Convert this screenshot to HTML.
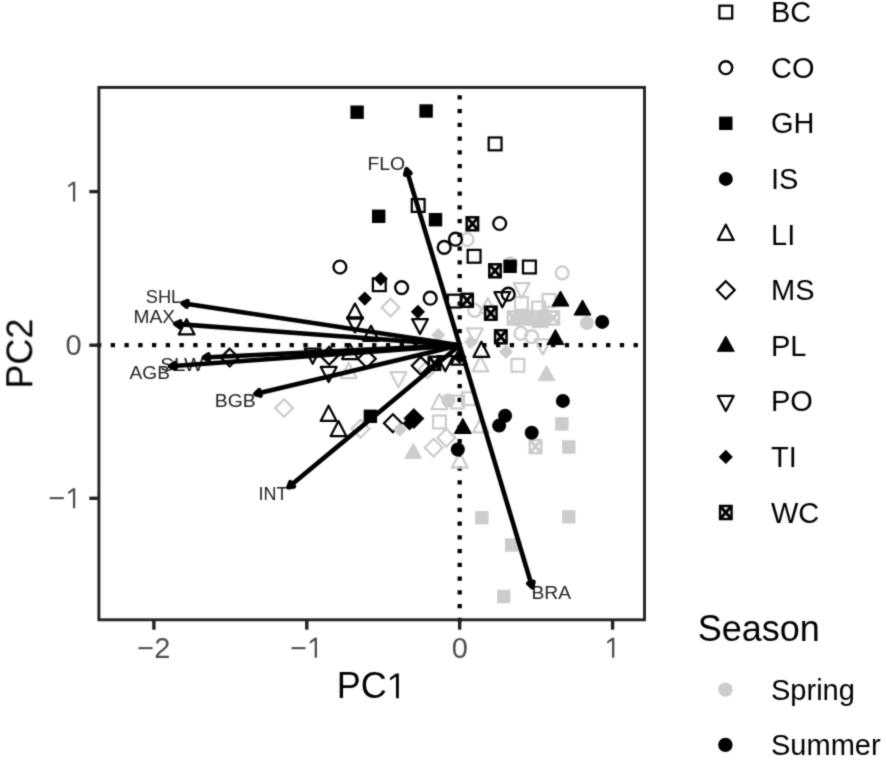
<!DOCTYPE html>
<html><head><meta charset="utf-8"><style>
html,body{margin:0;padding:0;background:#fff;width:886px;height:760px;overflow:hidden}
svg{display:block;will-change:transform}
text{font-family:"Liberation Sans",sans-serif}
</style></head><body>
<svg width="886" height="760" viewBox="0 0 886 760">
<defs><filter id="sb" x="0" y="0" width="886" height="760" filterUnits="userSpaceOnUse" color-interpolation-filters="sRGB"><feConvolveMatrix order="3" kernelMatrix="1 2 1 2 12 2 1 2 1" divisor="24" edgeMode="none"/></filter></defs>
<rect width="886" height="760" fill="#fff"/>
<g filter="url(#sb)">
<path d="M96.95 343.05h4.3v4.3h-4.3zM110.71 343.05h4.3v4.3h-4.3zM124.47 343.05h4.3v4.3h-4.3zM138.23 343.05h4.3v4.3h-4.3zM151.99 343.05h4.3v4.3h-4.3zM165.75 343.05h4.3v4.3h-4.3zM179.51 343.05h4.3v4.3h-4.3zM193.27 343.05h4.3v4.3h-4.3zM207.03 343.05h4.3v4.3h-4.3zM220.79 343.05h4.3v4.3h-4.3zM234.55 343.05h4.3v4.3h-4.3zM248.31 343.05h4.3v4.3h-4.3zM262.07 343.05h4.3v4.3h-4.3zM275.83 343.05h4.3v4.3h-4.3zM289.59 343.05h4.3v4.3h-4.3zM303.35 343.05h4.3v4.3h-4.3zM317.11 343.05h4.3v4.3h-4.3zM330.87 343.05h4.3v4.3h-4.3zM344.63 343.05h4.3v4.3h-4.3zM358.39 343.05h4.3v4.3h-4.3zM372.15 343.05h4.3v4.3h-4.3zM385.91 343.05h4.3v4.3h-4.3zM399.67 343.05h4.3v4.3h-4.3zM413.43 343.05h4.3v4.3h-4.3zM427.19 343.05h4.3v4.3h-4.3zM440.95 343.05h4.3v4.3h-4.3zM454.71 343.05h4.3v4.3h-4.3zM468.47 343.05h4.3v4.3h-4.3zM482.23 343.05h4.3v4.3h-4.3zM495.99 343.05h4.3v4.3h-4.3zM509.75 343.05h4.3v4.3h-4.3zM523.51 343.05h4.3v4.3h-4.3zM537.27 343.05h4.3v4.3h-4.3zM551.03 343.05h4.3v4.3h-4.3zM564.79 343.05h4.3v4.3h-4.3zM578.55 343.05h4.3v4.3h-4.3zM592.31 343.05h4.3v4.3h-4.3zM606.07 343.05h4.3v4.3h-4.3zM619.83 343.05h4.3v4.3h-4.3zM633.59 343.05h4.3v4.3h-4.3zM457.55 617.65h4.3v4.3h-4.3zM457.55 603.90h4.3v4.3h-4.3zM457.55 590.15h4.3v4.3h-4.3zM457.55 576.40h4.3v4.3h-4.3zM457.55 562.65h4.3v4.3h-4.3zM457.55 548.90h4.3v4.3h-4.3zM457.55 535.15h4.3v4.3h-4.3zM457.55 521.40h4.3v4.3h-4.3zM457.55 507.65h4.3v4.3h-4.3zM457.55 493.90h4.3v4.3h-4.3zM457.55 480.15h4.3v4.3h-4.3zM457.55 466.40h4.3v4.3h-4.3zM457.55 452.65h4.3v4.3h-4.3zM457.55 438.90h4.3v4.3h-4.3zM457.55 425.15h4.3v4.3h-4.3zM457.55 411.40h4.3v4.3h-4.3zM457.55 397.65h4.3v4.3h-4.3zM457.55 383.90h4.3v4.3h-4.3zM457.55 370.15h4.3v4.3h-4.3zM457.55 356.40h4.3v4.3h-4.3zM457.55 342.65h4.3v4.3h-4.3zM457.55 328.90h4.3v4.3h-4.3zM457.55 315.15h4.3v4.3h-4.3zM457.55 301.40h4.3v4.3h-4.3zM457.55 287.65h4.3v4.3h-4.3zM457.55 273.90h4.3v4.3h-4.3zM457.55 260.15h4.3v4.3h-4.3zM457.55 246.40h4.3v4.3h-4.3zM457.55 232.65h4.3v4.3h-4.3zM457.55 218.90h4.3v4.3h-4.3zM457.55 205.15h4.3v4.3h-4.3zM457.55 191.40h4.3v4.3h-4.3zM457.55 177.65h4.3v4.3h-4.3zM457.55 163.90h4.3v4.3h-4.3zM457.55 150.15h4.3v4.3h-4.3zM457.55 136.40h4.3v4.3h-4.3zM457.55 122.65h4.3v4.3h-4.3zM457.55 108.90h4.3v4.3h-4.3zM457.55 95.15h4.3v4.3h-4.3z" fill="#000"/>
<g id="labels" fill="#222"><text x="405.2" y="169.7" text-anchor="end" font-size="19" textLength="37.7" lengthAdjust="spacingAndGlyphs">FLO</text><text x="181.2" y="303.2" text-anchor="end" font-size="19" textLength="35.4" lengthAdjust="spacingAndGlyphs">SHL</text><text x="175.0" y="323.3" text-anchor="end" font-size="19" textLength="41.5" lengthAdjust="spacingAndGlyphs">MAX</text><text x="203.3" y="371.1" text-anchor="end" font-size="19" textLength="43.0" lengthAdjust="spacingAndGlyphs">SLW</text><text x="169.9" y="379.0" text-anchor="end" font-size="19" textLength="40.3" lengthAdjust="spacingAndGlyphs">AGB</text><text x="255.7" y="407.0" text-anchor="end" font-size="19" textLength="41.0" lengthAdjust="spacingAndGlyphs">BGB</text><text x="287.4" y="499.9" text-anchor="end" font-size="19" textLength="28.9" lengthAdjust="spacingAndGlyphs">INT</text><text x="531.4" y="599.2" font-size="19" textLength="39.6" lengthAdjust="spacingAndGlyphs">BRA</text></g>
<g id="pts"><circle cx="467.10" cy="239.50" r="6.40" fill="none" stroke="#cccccc" stroke-width="2.4"/><circle cx="562.20" cy="272.80" r="6.40" fill="none" stroke="#cccccc" stroke-width="2.4"/><circle cx="474.70" cy="310.30" r="6.40" fill="none" stroke="#cccccc" stroke-width="2.4"/><circle cx="520.90" cy="333.30" r="6.40" fill="none" stroke="#cccccc" stroke-width="2.4"/><circle cx="531.70" cy="336.60" r="6.40" fill="none" stroke="#cccccc" stroke-width="2.4"/><path d="M521.60 298.30L529.50 283.20L513.70 283.20Z" fill="none" stroke="#cccccc" stroke-width="2.25" stroke-linejoin="round"/><path d="M474.80 343.50L482.70 328.40L466.90 328.40Z" fill="none" stroke="#cccccc" stroke-width="2.25" stroke-linejoin="round"/><path d="M542.80 354.50L550.70 339.40L534.90 339.40Z" fill="none" stroke="#cccccc" stroke-width="2.25" stroke-linejoin="round"/><path d="M398.40 387.30L406.30 372.20L390.50 372.20Z" fill="none" stroke="#cccccc" stroke-width="2.25" stroke-linejoin="round"/><rect x="515.00" y="297.00" width="12.80" height="12.80" fill="none" stroke="#cccccc" stroke-width="2.25"/><rect x="532.20" y="301.60" width="12.80" height="12.80" fill="none" stroke="#cccccc" stroke-width="2.25"/><rect x="542.60" y="294.00" width="12.80" height="12.80" fill="none" stroke="#cccccc" stroke-width="2.25"/><rect x="511.50" y="358.90" width="12.80" height="12.80" fill="none" stroke="#cccccc" stroke-width="2.25"/><rect x="451.20" y="395.60" width="12.80" height="12.80" fill="none" stroke="#cccccc" stroke-width="2.25"/><rect x="462.10" y="392.30" width="12.80" height="12.80" fill="none" stroke="#cccccc" stroke-width="2.25"/><rect x="433.10" y="415.60" width="12.80" height="12.80" fill="none" stroke="#cccccc" stroke-width="2.25"/><path d="M427.50 360.60L436.40 369.50L427.50 378.40L418.60 369.50Z" fill="none" stroke="#cccccc" stroke-width="2.25"/><rect x="507.80" y="311.50" width="11.40" height="13.00" fill="none" stroke="#cccccc" stroke-width="2.5"/><path d="M507.80 311.50L519.20 324.50M519.20 311.50L507.80 324.50" stroke="#cccccc" stroke-width="3.1"/><rect x="518.30" y="311.50" width="11.40" height="13.00" fill="none" stroke="#cccccc" stroke-width="2.5"/><path d="M518.30 311.50L529.70 324.50M529.70 311.50L518.30 324.50" stroke="#cccccc" stroke-width="3.1"/><rect x="528.30" y="311.50" width="11.40" height="13.00" fill="none" stroke="#cccccc" stroke-width="2.5"/><path d="M528.30 311.50L539.70 324.50M539.70 311.50L528.30 324.50" stroke="#cccccc" stroke-width="3.1"/><rect x="538.30" y="311.50" width="11.40" height="13.00" fill="none" stroke="#cccccc" stroke-width="2.5"/><path d="M538.30 311.50L549.70 324.50M549.70 311.50L538.30 324.50" stroke="#cccccc" stroke-width="3.1"/><rect x="547.60" y="311.50" width="11.40" height="13.00" fill="none" stroke="#cccccc" stroke-width="2.5"/><path d="M547.60 311.50L559.00 324.50M559.00 311.50L547.60 324.50" stroke="#cccccc" stroke-width="3.1"/><rect x="529.80" y="440.10" width="11.40" height="13.00" fill="none" stroke="#cccccc" stroke-width="2.5"/><path d="M529.80 440.10L541.20 453.10M541.20 440.10L529.80 453.10" stroke="#cccccc" stroke-width="3.1"/><path d="M390.50 298.70L399.40 307.60L390.50 316.50L381.60 307.60Z" fill="none" stroke="#cccccc" stroke-width="2.25"/><path d="M284.10 399.20L293.00 408.10L284.10 417.00L275.20 408.10Z" fill="none" stroke="#cccccc" stroke-width="2.25"/><path d="M360.50 419.90L369.40 428.80L360.50 437.70L351.60 428.80Z" fill="none" stroke="#cccccc" stroke-width="2.25"/><path d="M446.30 428.90L455.20 437.80L446.30 446.70L437.40 437.80Z" fill="none" stroke="#cccccc" stroke-width="2.25"/><path d="M433.60 438.80L442.50 447.70L433.60 456.60L424.70 447.70Z" fill="none" stroke="#cccccc" stroke-width="2.25"/><path d="M487.90 297.90L495.80 313.00L480.00 313.00Z" fill="none" stroke="#cccccc" stroke-width="2.25" stroke-linejoin="round"/><path d="M480.40 356.30L488.30 371.40L472.50 371.40Z" fill="none" stroke="#cccccc" stroke-width="2.25" stroke-linejoin="round"/><path d="M439.40 394.00L447.30 409.10L431.50 409.10Z" fill="none" stroke="#cccccc" stroke-width="2.25" stroke-linejoin="round"/><path d="M459.70 452.60L467.60 467.70L451.80 467.70Z" fill="none" stroke="#cccccc" stroke-width="2.25" stroke-linejoin="round"/><path d="M348.70 363.00L356.60 378.10L340.80 378.10Z" fill="none" stroke="#cccccc" stroke-width="2.25" stroke-linejoin="round"/><path d="M481.00 417.30L488.90 432.40L473.10 432.40Z" fill="none" stroke="#cccccc" stroke-width="2.25" stroke-linejoin="round"/><circle cx="586.90" cy="323.10" r="7.00" fill="#cccccc"/><circle cx="448.30" cy="400.50" r="7.00" fill="#cccccc"/><circle cx="544.50" cy="315.00" r="7.00" fill="#cccccc"/><rect x="521.30" y="311.30" width="13.40" height="13.40" fill="#cccccc"/><circle cx="517.00" cy="319.00" r="7.00" fill="#cccccc"/><rect x="555.20" y="417.20" width="13.40" height="13.40" fill="#cccccc"/><rect x="562.10" y="440.30" width="13.40" height="13.40" fill="#cccccc"/><rect x="475.10" y="511.00" width="13.40" height="13.40" fill="#cccccc"/><rect x="562.10" y="510.10" width="13.40" height="13.40" fill="#cccccc"/><rect x="504.90" y="538.30" width="13.40" height="13.40" fill="#cccccc"/><rect x="497.10" y="589.80" width="13.40" height="13.40" fill="#cccccc"/><circle cx="510.50" cy="264.00" r="6.40" fill="none" stroke="#cccccc" stroke-width="2.4"/><path d="M546.50 365.40L555.00 380.60L538.00 380.60Z" fill="#cccccc" stroke="#cccccc" stroke-width="1" stroke-linejoin="round"/><path d="M413.30 443.30L421.80 458.50L404.80 458.50Z" fill="#cccccc" stroke="#cccccc" stroke-width="1" stroke-linejoin="round"/><path d="M540.00 312.40L548.50 327.60L531.50 327.60Z" fill="#cccccc" stroke="#cccccc" stroke-width="1" stroke-linejoin="round"/><path d="M438.30 327.90L445.40 335.00L438.30 342.10L431.20 335.00Z" fill="#cccccc"/><path d="M506.00 344.70L513.10 351.80L506.00 358.90L498.90 351.80Z" fill="#cccccc"/><path d="M471.00 334.90L478.10 342.00L471.00 349.10L463.90 342.00Z" fill="#cccccc"/><rect x="350.40" y="105.50" width="13.40" height="13.40" fill="#000"/><rect x="419.40" y="104.30" width="13.40" height="13.40" fill="#000"/><rect x="372.00" y="209.60" width="13.40" height="13.40" fill="#000"/><rect x="428.80" y="213.00" width="13.40" height="13.40" fill="#000"/><rect x="503.40" y="259.60" width="13.40" height="13.40" fill="#000"/><rect x="363.70" y="409.60" width="13.40" height="13.40" fill="#000"/><rect x="488.70" y="137.50" width="12.80" height="12.80" fill="none" stroke="#000" stroke-width="2.25"/><rect x="411.80" y="199.10" width="12.80" height="12.80" fill="none" stroke="#000" stroke-width="2.25"/><rect x="372.90" y="278.30" width="12.80" height="12.80" fill="none" stroke="#000" stroke-width="2.25"/><rect x="467.70" y="249.90" width="12.80" height="12.80" fill="none" stroke="#000" stroke-width="2.25"/><rect x="523.00" y="260.60" width="12.80" height="12.80" fill="none" stroke="#000" stroke-width="2.25"/><rect x="447.90" y="294.70" width="12.80" height="12.80" fill="none" stroke="#000" stroke-width="2.25"/><circle cx="499.70" cy="223.50" r="6.40" fill="none" stroke="#000" stroke-width="2.4"/><circle cx="339.90" cy="267.00" r="6.40" fill="none" stroke="#000" stroke-width="2.4"/><circle cx="455.50" cy="239.20" r="6.40" fill="none" stroke="#000" stroke-width="2.4"/><circle cx="444.20" cy="247.40" r="6.40" fill="none" stroke="#000" stroke-width="2.4"/><circle cx="401.60" cy="287.60" r="6.40" fill="none" stroke="#000" stroke-width="2.4"/><circle cx="430.20" cy="298.20" r="6.40" fill="none" stroke="#000" stroke-width="2.4"/><circle cx="508.20" cy="294.20" r="6.40" fill="none" stroke="#000" stroke-width="2.4"/><rect x="466.70" y="217.30" width="11.40" height="13.00" fill="none" stroke="#000" stroke-width="2.5"/><path d="M466.70 217.30L478.10 230.30M478.10 217.30L466.70 230.30" stroke="#000" stroke-width="3.1"/><rect x="489.30" y="264.30" width="11.40" height="13.00" fill="none" stroke="#000" stroke-width="2.5"/><path d="M489.30 264.30L500.70 277.30M500.70 264.30L489.30 277.30" stroke="#000" stroke-width="3.1"/><rect x="461.40" y="293.80" width="11.40" height="13.00" fill="none" stroke="#000" stroke-width="2.5"/><path d="M461.40 293.80L472.80 306.80M472.80 293.80L461.40 306.80" stroke="#000" stroke-width="3.1"/><rect x="485.10" y="306.70" width="11.40" height="13.00" fill="none" stroke="#000" stroke-width="2.5"/><path d="M485.10 306.70L496.50 319.70M496.50 306.70L485.10 319.70" stroke="#000" stroke-width="3.1"/><rect x="495.10" y="330.30" width="11.40" height="13.00" fill="none" stroke="#000" stroke-width="2.5"/><path d="M495.10 330.30L506.50 343.30M506.50 330.30L495.10 343.30" stroke="#000" stroke-width="3.1"/><rect x="428.80" y="356.80" width="11.40" height="13.00" fill="none" stroke="#000" stroke-width="2.5"/><path d="M428.80 356.80L440.20 369.80M440.20 356.80L428.80 369.80" stroke="#000" stroke-width="3.1"/><path d="M380.70 271.70L387.80 278.80L380.70 285.90L373.60 278.80Z" fill="#000"/><path d="M364.80 291.50L371.90 298.60L364.80 305.70L357.70 298.60Z" fill="#000"/><path d="M417.90 304.70L425.00 311.80L417.90 318.90L410.80 311.80Z" fill="#000"/><path d="M413.90 410.20L422.30 418.60L413.90 427.00L405.50 418.60Z" fill="#000"/><path d="M409.50 416.40L416.60 423.50L409.50 430.60L402.40 423.50Z" fill="#000"/><path d="M186.60 319.30L194.50 334.40L178.70 334.40Z" fill="none" stroke="#000" stroke-width="2.25" stroke-linejoin="round"/><path d="M355.00 303.60L362.90 318.70L347.10 318.70Z" fill="none" stroke="#000" stroke-width="2.25" stroke-linejoin="round"/><path d="M371.00 325.70L378.90 340.80L363.10 340.80Z" fill="none" stroke="#000" stroke-width="2.25" stroke-linejoin="round"/><path d="M481.40 341.80L489.30 356.90L473.50 356.90Z" fill="none" stroke="#000" stroke-width="2.25" stroke-linejoin="round"/><path d="M328.60 405.80L336.50 420.90L320.70 420.90Z" fill="none" stroke="#000" stroke-width="2.25" stroke-linejoin="round"/><path d="M338.50 421.10L346.40 436.20L330.60 436.20Z" fill="none" stroke="#000" stroke-width="2.25" stroke-linejoin="round"/><path d="M350.00 344.00L357.90 359.10L342.10 359.10Z" fill="none" stroke="#000" stroke-width="2.25" stroke-linejoin="round"/><path d="M355.00 332.40L362.90 317.30L347.10 317.30Z" fill="none" stroke="#000" stroke-width="2.25" stroke-linejoin="round"/><path d="M420.00 334.10L427.90 319.00L412.10 319.00Z" fill="none" stroke="#000" stroke-width="2.25" stroke-linejoin="round"/><path d="M502.30 307.20L510.20 292.10L494.40 292.10Z" fill="none" stroke="#000" stroke-width="2.25" stroke-linejoin="round"/><path d="M328.70 382.00L336.60 366.90L320.80 366.90Z" fill="none" stroke="#000" stroke-width="2.25" stroke-linejoin="round"/><path d="M329.20 346.90L338.10 355.80L329.20 364.70L320.30 355.80Z" fill="none" stroke="#000" stroke-width="2.25"/><path d="M312.70 363.70L320.60 348.60L304.80 348.60Z" fill="none" stroke="#000" stroke-width="2.25" stroke-linejoin="round"/><path d="M445.30 371.30L453.20 356.20L437.40 356.20Z" fill="none" stroke="#000" stroke-width="2.25" stroke-linejoin="round"/><path d="M459.00 349.40L466.90 364.50L451.10 364.50Z" fill="none" stroke="#000" stroke-width="2.25" stroke-linejoin="round"/><path d="M459.60 349.90L466.70 357.00L459.60 364.10L452.50 357.00Z" fill="#000"/><path d="M229.70 348.70L238.60 357.60L229.70 366.50L220.80 357.60Z" fill="none" stroke="#000" stroke-width="2.25"/><path d="M366.80 349.90L375.70 358.80L366.80 367.70L357.90 358.80Z" fill="none" stroke="#000" stroke-width="2.25"/><path d="M420.70 356.90L429.60 365.80L420.70 374.70L411.80 365.80Z" fill="none" stroke="#000" stroke-width="2.25"/><path d="M392.90 414.30L401.80 423.20L392.90 432.10L384.00 423.20Z" fill="none" stroke="#000" stroke-width="2.25"/><path d="M399.80 422.50L406.90 429.60L399.80 436.70L392.70 429.60Z" fill="#cccccc"/><path d="M413.90 409.70L422.80 418.60L413.90 427.50L405.00 418.60Z" fill="none" stroke="#000" stroke-width="2.25"/><path d="M560.50 290.90L569.00 306.10L552.00 306.10Z" fill="#000" stroke="#000" stroke-width="1" stroke-linejoin="round"/><path d="M582.50 299.90L591.00 315.10L574.00 315.10Z" fill="#000" stroke="#000" stroke-width="1" stroke-linejoin="round"/><path d="M555.40 329.40L563.90 344.60L546.90 344.60Z" fill="#000" stroke="#000" stroke-width="1" stroke-linejoin="round"/><path d="M462.80 418.30L471.30 433.50L454.30 433.50Z" fill="#000" stroke="#000" stroke-width="1" stroke-linejoin="round"/><circle cx="602.20" cy="321.90" r="7.00" fill="#000"/><circle cx="505.10" cy="415.70" r="7.00" fill="#000"/><circle cx="499.10" cy="425.60" r="7.00" fill="#000"/><circle cx="531.70" cy="432.80" r="7.00" fill="#000"/><circle cx="562.90" cy="400.90" r="7.00" fill="#000"/><circle cx="457.80" cy="449.50" r="7.00" fill="#000"/></g>
<g id="arrows" stroke="#000" stroke-width="4.6" stroke-linecap="butt" fill="none"><path d="M459.7 345.2L406.50 169.30"/><path d="M410.51 173.06L406.50 169.30L405.25 174.66" stroke-linejoin="round" stroke-linecap="round"/><path d="M459.7 345.2L182.50 303.20"/><path d="M187.62 301.19L182.50 303.20L186.80 306.63" stroke-linejoin="round" stroke-linecap="round"/><path d="M459.7 345.2L175.30 323.90"/><path d="M180.26 321.51L175.30 323.90L179.84 327.00" stroke-linejoin="round" stroke-linecap="round"/><path d="M459.7 345.2L203.80 357.50"/><path d="M208.43 354.52L203.80 357.50L208.69 360.02" stroke-linejoin="round" stroke-linecap="round"/><path d="M459.7 345.2L170.00 366.30"/><path d="M174.55 363.21L170.00 366.30L174.95 368.70" stroke-linejoin="round" stroke-linecap="round"/><path d="M459.7 345.2L255.30 394.00"/><path d="M259.29 390.22L255.30 394.00L260.57 395.57" stroke-linejoin="round" stroke-linecap="round"/><path d="M459.7 345.2L288.50 487.30"/><path d="M290.41 482.14L288.50 487.30L293.92 486.37" stroke-linejoin="round" stroke-linecap="round"/><path d="M459.7 345.2L532.20 587.20"/><path d="M528.20 583.43L532.20 587.20L533.47 581.85" stroke-linejoin="round" stroke-linecap="round"/></g>
<rect x="98.9" y="87.4" width="545.6" height="532.4" fill="none" stroke="#232323" stroke-width="2.9"/>
<g stroke="#232323" stroke-width="3.4"><line x1="153.9" y1="619.8" x2="153.9" y2="629.7"/><line x1="306.8" y1="619.8" x2="306.8" y2="629.7"/><line x1="459.7" y1="619.8" x2="459.7" y2="629.7"/><line x1="612.6" y1="619.8" x2="612.6" y2="629.7"/><line x1="89.3" y1="191.6" x2="98.9" y2="191.6"/><line x1="89.3" y1="345.2" x2="98.9" y2="345.2"/><line x1="89.3" y1="498.3" x2="98.9" y2="498.3"/></g>
<g id="txt" opacity="0.999"><text x="153.9" y="657.8" text-anchor="middle" font-size="29" fill="#4d4d4d">−2</text><text x="290.27" y="657.8" font-size="29" fill="#4d4d4d">−</text><path transform="translate(307.21 657.80) scale(0.01416 -0.01416)" d="M530 0V1230L190 1000V1160L530 1409H690V0Z" fill="#4d4d4d"/><text x="459.7" y="657.8" text-anchor="middle" font-size="29" fill="#4d4d4d">0</text><path transform="translate(604.53 657.80) scale(0.01416 -0.01416)" d="M530 0V1230L190 1000V1160L530 1409H690V0Z" fill="#4d4d4d"/><path transform="translate(65.47 201.60) scale(0.01416 -0.01416)" d="M530 0V1230L190 1000V1160L530 1409H690V0Z" fill="#4d4d4d"/><text x="81.6" y="355.2" text-anchor="end" font-size="29" fill="#4d4d4d">0</text><text x="48.54" y="508.3" font-size="29" fill="#4d4d4d">−</text><path transform="translate(65.47 508.30) scale(0.01416 -0.01416)" d="M530 0V1230L190 1000V1160L530 1409H690V0Z" fill="#4d4d4d"/><text x="336.69" y="698.2" font-size="36" fill="#000">PC</text><path transform="translate(386.70 698.20) scale(0.01758 -0.01758)" d="M530 0V1230L190 1000V1160L530 1409H690V0Z" fill="#000"/><text transform="translate(32.3 353.6) rotate(-90)" x="0" y="0" text-anchor="middle" font-size="36" fill="#000">PC2</text></g>
<g id="legend" opacity="0.999"><rect x="719.40" y="5.70" width="12.80" height="12.80" fill="none" stroke="#000" stroke-width="2.25"/><text x="771" y="22.2" font-size="29">BC</text><circle cx="725.80" cy="67.70" r="6.40" fill="none" stroke="#000" stroke-width="2.4"/><text x="771" y="77.8" font-size="29">CO</text><rect x="719.10" y="116.60" width="13.40" height="13.40" fill="#000"/><text x="771" y="133.4" font-size="29">GH</text><circle cx="725.80" cy="178.90" r="7.00" fill="#000"/><text x="771" y="189.0" font-size="29">IS</text><path d="M725.80 224.80L733.70 239.90L717.90 239.90Z" fill="none" stroke="#000" stroke-width="2.25" stroke-linejoin="round"/><text x="771" y="244.6" font-size="29">LI</text><path d="M725.80 281.20L734.70 290.10L725.80 299.00L716.90 290.10Z" fill="none" stroke="#000" stroke-width="2.25"/><text x="771" y="300.2" font-size="29">MS</text><path d="M725.80 336.10L734.30 351.30L717.30 351.30Z" fill="#000" stroke="#000" stroke-width="1" stroke-linejoin="round"/><text x="771" y="355.8" font-size="29">PL</text><path d="M725.80 411.00L733.70 395.90L717.90 395.90Z" fill="none" stroke="#000" stroke-width="2.25" stroke-linejoin="round"/><text x="771" y="411.4" font-size="29">PO</text><path d="M725.80 449.80L732.90 456.90L725.80 464.00L718.70 456.90Z" fill="#000"/><text x="771" y="467.0" font-size="29">TI</text><rect x="720.10" y="506.00" width="11.40" height="13.00" fill="none" stroke="#000" stroke-width="2.5"/><path d="M720.10 506.00L731.50 519.00M731.50 506.00L720.10 519.00" stroke="#000" stroke-width="3.1"/><text x="771" y="522.6" font-size="29">WC</text><text x="697.7" y="640.6" font-size="36">Season</text><circle cx="725.40" cy="689.60" r="7.20" fill="#cccccc"/><text x="771" y="699.7" font-size="29">Spring</text><circle cx="725.40" cy="744.90" r="7.20" fill="#000"/><text x="771" y="755.0" font-size="29">Summer</text></g>
</g>
</svg>
</body></html>
